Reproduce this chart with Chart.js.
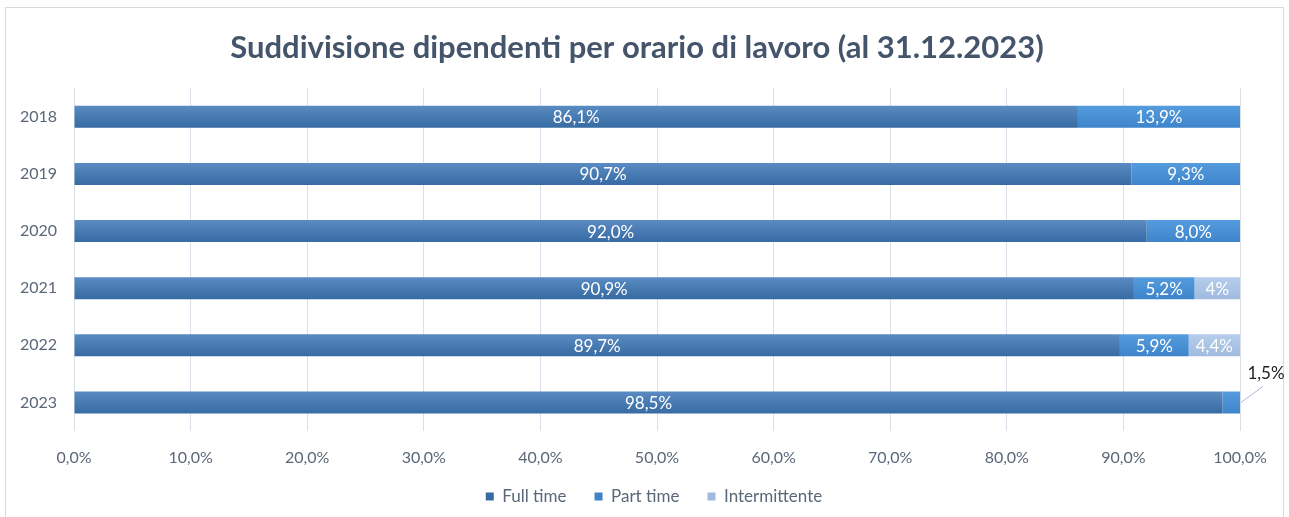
<!DOCTYPE html>
<html>
<head>
<meta charset="utf-8">
<script src="https://cdn.jsdelivr.net/npm/chart.js@4/dist/chart.umd.min.js"></script>
<style>
  html, body { margin: 0; padding: 0; background: #fff; }
  #wrap { width: 1289px; height: 517px; position: relative; }
</style>
</head>
<body>
<div id="wrap"><canvas id="orarioChart" width="1289" height="517"></canvas></div>
<script>
// Dati
const years = ["2018", "2019", "2020", "2021", "2022", "2023"];
const fullTime = [86.1, 90.7, 92.0, 90.9, 89.7, 98.5];
const partTime = [13.9, 9.3, 8.0, 5.2, 5.9, 1.5];
const intermittente = [null, null, null, 3.9, 4.4, null];
// nel grafico originale il 2021 è arrotondato a "4%"
const intermittenteText = [null, null, null, "4%", "4,4%", null];
const xTicks = [0, 10, 20, 30, 40, 50, 60, 70, 80, 90, 100];

const FONT = "Lato, 'Open Sans', sans-serif";

function fmt(v) {
  return v.toFixed(1).replace(".", ",") + "%";
}

// gradient verticale per ogni barra
function barGradient(top, bottom) {
  return (context) => {
    const chart = context.chart;
    if (!chart.chartArea || context.dataIndex === undefined) return bottom;
    const y = chart.scales.y.getPixelForValue(context.dataIndex);
    const g = chart.ctx.createLinearGradient(0, y - 11, 0, y + 11);
    g.addColorStop(0, top);
    g.addColorStop(1, bottom);
    return g;
  };
}

// bordo esterno + piccoli aggiustamenti di posizione
const frame = {
  id: "frame",
  afterLayout(chart) {
    chart.titleBlock.left += 17;
    chart.titleBlock.right += 17;
    chart.legend.left += 34;
    chart.legend.right += 34;
    // lascia spazio alle etichette dell'asse x (altrimenti tagliate)
    chart.scales.x.bottom = chart.scales.x.top + 45;
  },
  beforeDraw(chart) {
    const ctx = chart.ctx;
    ctx.save();
    ctx.strokeStyle = "#d9d9d9";
    ctx.lineWidth = 1;
    ctx.strokeRect(5.5, 7.5, 1278, 520);
    ctx.restore();
  }
};

// etichette dei valori
const valueLabels = {
  id: "valueLabels",
  afterDatasetsDraw(chart) {
    const ctx = chart.ctx;
    ctx.save();
    ctx.font = "17px " + FONT;
    ctx.textAlign = "center";
    ctx.textBaseline = "middle";
    chart.data.datasets.forEach((ds, i) => {
      const meta = chart.getDatasetMeta(i);
      meta.data.forEach((bar, j) => {
        const v = ds.data[j];
        if (v === null || v === undefined) return;
        const text = ds.texts ? ds.texts[j] : fmt(v);
        const right = Math.min(bar.x, chart.chartArea.right);
        if (v < 3) {
          // etichetta esterna con linea guida
          ctx.strokeStyle = "#a6b9d3";
          ctx.lineWidth = 1;
          ctx.beginPath();
          ctx.moveTo(right + 1, bar.y);
          ctx.lineTo(right + 23, bar.y - 16);
          ctx.stroke();
          ctx.fillStyle = "#222";
          ctx.fillText(text, right + 26, bar.y - 29);
        } else {
          ctx.fillStyle = "#ffffff";
          ctx.fillText(text, (bar.base + right) / 2, bar.y + 1);
        }
      });
    });
    ctx.restore();
  }
};

new Chart(document.getElementById("orarioChart"), {
  type: "bar",
  data: {
    labels: years,
    datasets: [
      { label: "Full time", data: fullTime, backgroundColor: barGradient("#5a8bc3", "#386ba3") },
      { label: "Part time", data: partTime, backgroundColor: barGradient("#559cdd", "#3e84cb") },
      { label: "Intermittente", data: intermittente, texts: intermittenteText, backgroundColor: barGradient("#b6cdea", "#9fbbe0") }
    ]
  },
  options: {
    indexAxis: "y",
    responsive: false,
    animation: false,
    devicePixelRatio: 1,
    barPercentage: 0.77,
    categoryPercentage: 0.5,
    layout: { padding: { left: 0, right: 49, top: 0, bottom: 2 } },
    scales: {
      x: {
        stacked: true,
        min: 0,
        max: 100,
        afterBuildTicks(scale) { scale.ticks = xTicks.map(v => ({ value: v })); },
        afterFit(scale) { scale.height = 29; },
        grid: { color: "#d9e0ea", drawTicks: false },
        border: { display: false },
        ticks: {
          padding: 17,
          color: "#5b6778",
          font: { family: FONT, size: 16 },
          callback: (v) => fmt(v)
        }
      },
      y: {
        stacked: true,
        grid: { display: false, drawTicks: false },
        border: { display: false },
        afterFit(scale) { scale.width = 74; },
        ticks: { padding: 17, color: "#5b6778", font: { family: FONT, size: 16 } }
      }
    },
    plugins: {
      title: {
        display: true,
        text: "Suddivisione dipendenti per orario di lavoro (al 31.12.2023)",
        color: "#44546a",
        font: { family: FONT, size: 31, weight: "bold" },
        padding: { top: 29, bottom: 22 }
      },
      legend: {
        position: "bottom",
        labels: {
          boxWidth: 8,
          boxHeight: 8,
          color: "#5b6778",
          font: { family: FONT, size: 17 },
          padding: 28
        }
      },
      tooltip: { enabled: false }
    }
  },
  plugins: [frame, valueLabels]
});
</script>
</body>
</html>
